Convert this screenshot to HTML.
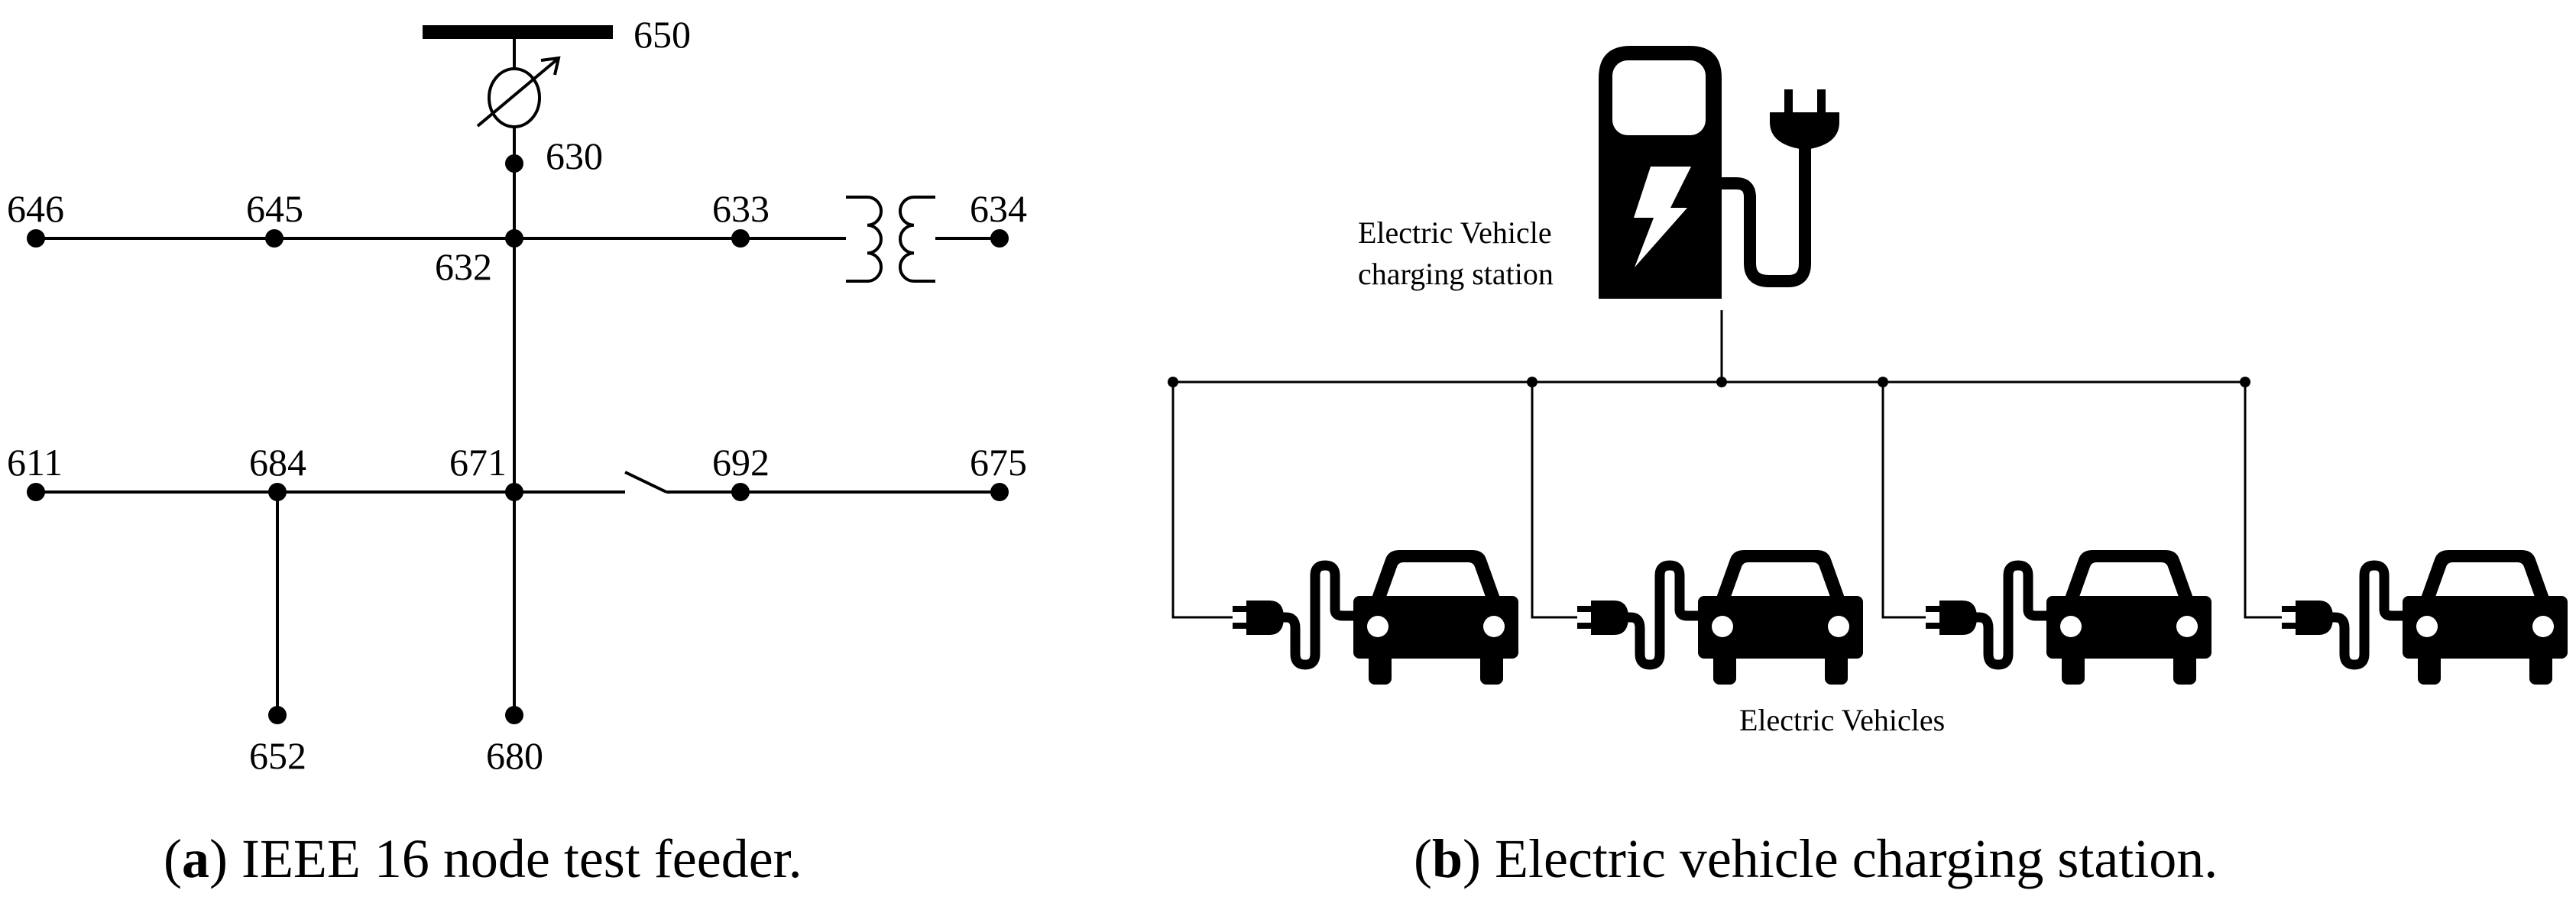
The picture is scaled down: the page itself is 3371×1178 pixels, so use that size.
<!DOCTYPE html>
<html><head><meta charset="utf-8"><style>
html,body{margin:0;padding:0;background:#fff;}
svg{display:block;}
text{font-family:"Liberation Serif",serif;fill:#000;}
</style></head><body>
<svg width="3371" height="1178" viewBox="0 0 3371 1178" xmlns="http://www.w3.org/2000/svg">
<defs>
<g id="car">
  <!-- plug -->
  <rect x="-158" y="793" width="20" height="8" fill="#000"/>
  <rect x="-158" y="815" width="20" height="8" fill="#000"/>
  <path d="M-140 786 H-110 Q-91 786 -91 808 Q-91 831 -110 831 H-140 Z" fill="#000"/>
  <path d="M-95 808 H-88 Q-76 808 -76 822 V856 Q-76 870 -63 870 Q-50 870 -50 856 V753 Q-50 740 -37 740 Q-24 740 -24 753 V798 Q-24 806 -14 806 H4" fill="none" stroke="#000" stroke-width="13"/>
  <!-- car -->
  <g transform="translate(0,714)">
  <path d="M22 74 L42 18 Q46 6 60 6 H156 Q170 6 174 18 L194 74 Z" fill="#000"/>
  <path d="M42 70 L57 28 Q59 22 66 22 H150 Q157 22 159 28 L174 70 Z" fill="#fff"/>
  <rect x="0" y="66" width="216" height="82" rx="8" fill="#000"/>
  <circle cx="32" cy="106" r="14" fill="#fff"/>
  <circle cx="184" cy="106" r="14" fill="#fff"/>
  <rect x="20" y="140" width="30" height="42" rx="8" fill="#000"/>
  <rect x="166" y="140" width="30" height="42" rx="8" fill="#000"/>
  </g>
</g>
</defs>

<!-- ===== Panel (a) ===== -->
<g stroke="#000" stroke-width="4" fill="none">
  <line x1="673" y1="42" x2="673" y2="936"/>
  <line x1="47" y1="312" x2="1107" y2="312"/>
  <line x1="1224" y1="312" x2="1308" y2="312"/>
  <line x1="47" y1="644" x2="818" y2="644"/>
  <line x1="818" y1="618" x2="872" y2="644"/>
  <line x1="872" y1="644" x2="1308" y2="644"/>
  <line x1="363" y1="644" x2="363" y2="936"/>
  <path d="M1107 258 H1135 A18 18.3 0 0 1 1135 294.7 A18 18.3 0 0 1 1135 331.3 A18 18.3 0 0 1 1135 368 H1107"/>
  <path d="M1224 258 H1196 A18 18.3 0 0 0 1196 294.7 A18 18.3 0 0 0 1196 331.3 A18 18.3 0 0 0 1196 368 H1224"/>
</g>
<ellipse cx="673" cy="128" rx="33" ry="38" fill="#fff" stroke="#000" stroke-width="4"/>
<g stroke="#000" stroke-width="4" fill="none">
  <line x1="625" y1="165" x2="730" y2="77"/>
  <polyline points="708,79 731,76 726,98"/>
</g>
<rect x="553" y="33" width="249" height="18" fill="#000"/>
<g fill="#000">
  <circle cx="673" cy="214" r="12"/>
  <circle cx="47" cy="312" r="12"/><circle cx="359" cy="312" r="12"/><circle cx="673" cy="312" r="12"/>
  <circle cx="969" cy="312" r="12"/><circle cx="1308" cy="312" r="12"/>
  <circle cx="47" cy="644" r="12"/><circle cx="363" cy="644" r="12"/><circle cx="673" cy="644" r="12"/>
  <circle cx="969" cy="644" r="12"/><circle cx="1308" cy="644" r="12"/>
  <circle cx="363" cy="936" r="12"/><circle cx="673" cy="936" r="12"/>
</g>
<g font-size="50">
  <text x="829" y="62">650</text>
  <text x="714" y="221">630</text>
  <text x="9" y="290">646</text>
  <text x="322" y="290">645</text>
  <text x="569" y="366">632</text>
  <text x="932" y="290">633</text>
  <text x="1269" y="290">634</text>
  <text x="9" y="622">611</text>
  <text x="326" y="622">684</text>
  <text x="588" y="622">671</text>
  <text x="932" y="622">692</text>
  <text x="1269" y="622">675</text>
  <text x="326" y="1006">652</text>
  <text x="636" y="1006">680</text>
</g>
<text x="214" y="1148" font-size="72">(<tspan font-weight="bold">a</tspan>) IEEE 16 node test feeder.</text>

<!-- ===== Panel (b) ===== -->
<path d="M2092 391 V102 Q2092 60 2134 60 H2211 Q2253 60 2253 102 V391 Z" fill="#000"/>
<rect x="2110" y="79" width="122" height="98" rx="20" fill="#fff"/>
<path d="M2160 218 L2213 218 L2186 272 L2208 272 L2139 350 L2164 285 L2138 285 Z" fill="#fff"/>
<path d="M2250 240 H2272 Q2290 240 2290 258 V345 Q2290 368 2315 368 H2340 Q2362 368 2362 345 V185" fill="none" stroke="#000" stroke-width="16"/>
<rect x="2335" y="117" width="11" height="32" fill="#000"/>
<rect x="2378" y="117" width="11" height="32" fill="#000"/>
<path d="M2316 147 H2407 V160 Q2407 190 2362 196 Q2316 190 2316 160 Z" fill="#000"/>
<text x="1777" y="318" font-size="40">Electric Vehicle</text>
<text x="1777" y="372" font-size="40">charging station</text>

<g stroke="#000" stroke-width="3" fill="none">
  <line x1="2253" y1="406" x2="2253" y2="500"/>
  <line x1="1535" y1="500" x2="2938" y2="500"/>
  <polyline points="1535,500 1535,808 1613,808"/>
  <polyline points="2005,500 2005,808 2064,808"/>
  <polyline points="2464,500 2464,808 2520,808"/>
  <polyline points="2938,500 2938,808 2986,808"/>
</g>
<g fill="#000">
  <circle cx="1535" cy="500" r="7"/><circle cx="2005" cy="500" r="7"/><circle cx="2253" cy="500" r="7"/>
  <circle cx="2464" cy="500" r="7"/><circle cx="2938" cy="500" r="7"/>
</g>
<use href="#car" transform="translate(1771,0)"/>
<use href="#car" transform="translate(2222,0)"/>
<use href="#car" transform="translate(2678,0)"/>
<use href="#car" transform="translate(3144,0)"/>
<text x="2276" y="956" font-size="40">Electric Vehicles</text>
<text x="1850" y="1148" font-size="72">(<tspan font-weight="bold">b</tspan>) Electric vehicle charging station.</text>
</svg>
</body></html>
